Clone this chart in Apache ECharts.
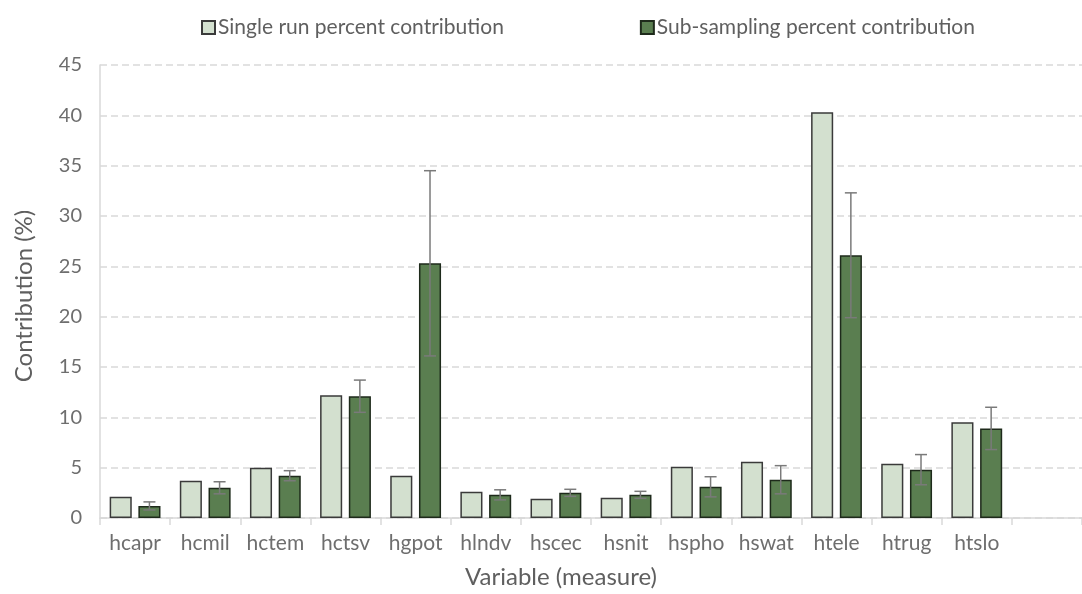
<!DOCTYPE html>
<html>
<head>
<meta charset="utf-8">
<script src="https://cdn.jsdelivr.net/npm/echarts@6/dist/echarts.min.js"></script>
<style>
html,body{margin:0;padding:0;background:#fff;}
#c{width:1082px;height:594px;}
</style>
</head>
<body>
<div id="c"></div>
<script>
var categories = ['hcapr','hcmil','hctem','hctsv','hgpot','hlndv','hscec','hsnit','hspho','hswat','htele','htrug','htslo',''];
var singleRun = [2.1, 3.7, 5.0, 12.2, 4.2, 2.6, 1.9, 2.0, 5.1, 5.6, 40.3, 5.4, 9.5, null];
var subSampling = [1.2, 3.0, 4.2, 12.1, 25.3, 2.3, 2.5, 2.3, 3.1, 3.8, 26.1, 4.8, 8.9, null];
var subSamplingErr = [0.4, 0.6, 0.5, 1.6, 9.2, 0.5, 0.35, 0.35, 1.0, 1.4, 6.2, 1.5, 2.1, null];
var yMin = 0, yMax = 45, yStep = 5;

var FONT = 'Lato';
var TXT = '#6e6e6e';
var TITLE = '#5f5f5f';
var BW = 0.315, GAP = 0.30;

var chart = echarts.init(document.getElementById('c'));
var errData = [];
for (var i = 0; i < categories.length; i++) {
  if (subSampling[i] != null) errData.push([i, subSampling[i] - subSamplingErr[i], subSampling[i] + subSamplingErr[i]]);
}
chart.setOption({
  animation: false,
  textStyle: {fontFamily: FONT},
  legend: {
    top: 12, left: 196,
    itemWidth: 13, itemHeight: 13, itemGap: 136,
    icon: 'rect',
    textStyle: {fontFamily: FONT, fontSize: 21, color: TITLE, padding: [0,0,0,-2]},
    data: ['Single run percent contribution', 'Sub-sampling percent contribution']
  },
  grid: {left: 100, right: -9, top: 65, bottom: 76, containLabel: false},
  xAxis: {
    type: 'category', data: categories,
    axisLine: {lineStyle: {color: '#d9d9d9', width: 1.5}},
    axisTick: {show: true, interval: 0, length: 7, lineStyle: {color: '#d9d9d9', width: 1.5}},
    axisLabel: {interval: 0, fontFamily: FONT, fontSize: 21, color: TXT, margin: 15},
    splitLine: {show: false}
  },
  yAxis: {
    type: 'value', min: yMin, max: yMax, interval: yStep,
    axisLine: {show: true, lineStyle: {color: '#d9d9d9', width: 1.5}},
    axisTick: {show: false},
    axisLabel: {fontFamily: FONT, fontSize: 20, color: TXT, margin: 18},
    splitLine: {lineStyle: {color: '#d9d9d9', width: 1.5, type: [7, 4]}}
  },
  graphic: [
    {type: 'text', x: 24, y: 296, rotation: Math.PI/2,
     style: {text: 'Contribution (%)', font: '24px ' + FONT, fill: TITLE, align: 'center', verticalAlign: 'middle'}},
    {type: 'text', x: 561, y: 577,
     style: {text: 'Variable (measure)', font: '24px ' + FONT, fill: TITLE, align: 'center', verticalAlign: 'middle'}}
  ],
  series: [
    {name: 'Single run percent contribution', type: 'bar', data: singleRun,
     barWidth: (BW*100) + '%', barGap: (GAP*100) + '%',
     itemStyle: {color: '#d3e0cf', borderColor: '#3a3a3a', borderWidth: 1.5}},
    {name: 'Sub-sampling percent contribution', type: 'bar', data: subSampling,
     barWidth: (BW*100) + '%', barGap: (GAP*100) + '%',
     itemStyle: {color: '#5a7e50', borderColor: '#1e2a1b', borderWidth: 1.5}},
    {type: 'custom', data: errData, z: 10, silent: true,
     renderItem: function (params, api) {
       var idx = api.value(0);
       var lo = api.coord([idx, api.value(1)]);
       var hi = api.coord([idx, api.value(2)]);
       var band = api.size([1, 0])[0];
       var w = band * BW;
       var x = lo[0] + w * (1 + GAP) / 2;
       var cap = 6;
       var st = {stroke: '#7a7a7a', lineWidth: 1.5};
       return {type: 'group', children: [
         {type: 'line', shape: {x1: x, y1: lo[1], x2: x, y2: hi[1]}, style: st},
         {type: 'line', shape: {x1: x - cap, y1: lo[1], x2: x + cap, y2: lo[1]}, style: st},
         {type: 'line', shape: {x1: x - cap, y1: hi[1], x2: x + cap, y2: hi[1]}, style: st}
       ]};
     }}
  ]
});
</script>
</body>
</html>
